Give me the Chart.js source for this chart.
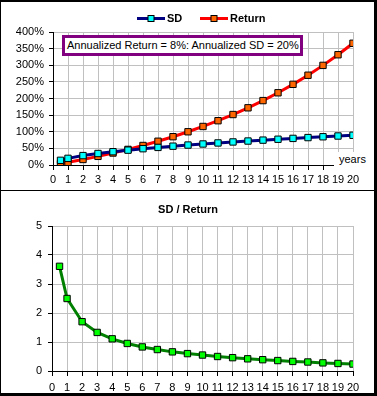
<!DOCTYPE html>
<html>
<head>
<meta charset="utf-8">
<script src="https://cdn.jsdelivr.net/npm/chart.js@4"></script>
<style>
  body { margin: 0; background: #fff; font-family: "Liberation Sans", Arial, sans-serif; }
  #page { position: relative; width: 377px; height: 396px; overflow: hidden; }
  canvas { position: absolute; left: 0; }
  #topChart { top: 0; }
  #bottomChart { top: 191px; }
  .frame { position: absolute; background: #000; }
  #note {
    position: absolute; left: 62px; top: 35px; width: 233px; height: 15px;
    border: 3px solid #800080; background: #fff; font-size: 11px; line-height: 15px;
    padding-left: 2px; white-space: pre; color: #000;
  }
  #years {
    position: absolute; left: 334px; top: 152px; width: 38px; height: 19px;
    background: #fff; font-size: 11px; line-height: 15px; padding-left: 5px; box-sizing: border-box; color: #000;
  }
</style>
</head>
<body>
<div id="page">
  <canvas id="topChart" width="377" height="190"></canvas>
  <canvas id="bottomChart" width="377" height="205"></canvas>
  <div id="note">Annualized Return = 8%: Annualized SD = 20%</div>
  <div id="years">years</div>
  <div class="frame" style="left:0;top:0;width:377px;height:2px"></div>
  <div class="frame" style="left:0;top:0;width:1px;height:396px"></div>
  <div class="frame" style="left:374px;top:0;width:3px;height:396px"></div>
  <div class="frame" style="left:0;top:393px;width:377px;height:3px"></div>
  <div class="frame" style="left:0;top:190px;width:377px;height:1px"></div>
</div>
<script>
const years = [0.5, 1, 2, 3, 4, 5, 6, 7, 8, 9, 10, 11, 12, 13, 14, 15, 16, 17, 18, 19, 20];
const sdValues = [14.1, 20.0, 28.3, 34.6, 40.0, 44.7, 49.0, 52.9, 56.6, 60.0, 63.2, 66.3, 69.3, 72.1, 74.8, 77.5, 80.0, 82.5, 84.9, 87.2, 89.4];
const returnValues = [3.9, 8.0, 16.6, 26.0, 36.0, 46.9, 58.7, 71.4, 85.1, 99.9, 115.9, 133.2, 151.8, 172.0, 193.7, 217.2, 242.6, 270.0, 299.6, 331.6, 366.1];
const ratioValues = [3.61, 2.50, 1.70, 1.33, 1.11, 0.95, 0.83, 0.74, 0.66, 0.60, 0.55, 0.50, 0.46, 0.42, 0.39, 0.36, 0.33, 0.31, 0.28, 0.26, 0.24];

const FONT = "'Liberation Sans', Arial, sans-serif";
Chart.defaults.font.family = FONT;
Chart.defaults.font.size = 11;
Chart.defaults.color = "#000";

const toPoints = (ys) => years.map((x, i) => ({ x, y: ys[i] }));

const lineSet = (label, values, line, marker) => ({
  label,
  data: toPoints(values),
  borderColor: line,
  borderWidth: 3,
  backgroundColor: marker,
  pointStyle: "rect",
  pointRadius: 4.5,
  pointHoverRadius: 4.5,
  pointBorderColor: "#000",
  pointBorderWidth: 1,
  tension: 0,
});

const xScale = (labelPad) => ({
  type: "linear",
  min: 0,
  max: 20,
  afterFit: (scale) => { scale.height = 25; },
  ticks: { stepSize: 1, autoSkip: false, maxRotation: 0, padding: labelPad },
  grid: { color: "#c0c0c0", tickColor: "#000", tickLength: 5 },
  border: { color: "#000", width: 1 },
});

// legend drawn Excel style: line with marker in the middle, bold label
const excelLegend = {
  id: "excelLegend",
  afterDraw: (chart) => {
    const ctx = chart.ctx;
    const spots = [137, 200];
    ctx.save();
    chart.data.datasets.forEach((ds, i) => {
      const x = spots[i];
      const y = 18.5;
      ctx.strokeStyle = ds.borderColor;
      ctx.lineWidth = 3;
      ctx.beginPath();
      ctx.moveTo(x, y);
      ctx.lineTo(x + 28, y);
      ctx.stroke();
      ctx.fillStyle = ds.backgroundColor;
      ctx.fillRect(x + 11, y - 3, 6, 6);
      ctx.lineWidth = 1;
      ctx.strokeStyle = "#000";
      ctx.strokeRect(x + 11, y - 3, 6, 6);
      ctx.fillStyle = "#000";
      ctx.font = "bold 11px " + FONT;
      ctx.textBaseline = "middle";
      ctx.fillText(ds.label, x + 30, y + 0.5);
    });
    ctx.restore();
  },
};

const chartTitle = {
  id: "chartTitle",
  afterDraw: (chart, args, opts) => {
    const ctx = chart.ctx;
    ctx.save();
    ctx.fillStyle = "#000";
    ctx.font = "bold 11px " + FONT;
    ctx.textAlign = "center";
    ctx.textBaseline = "middle";
    ctx.fillText(opts.text, opts.x, opts.y);
    ctx.restore();
  },
};

new Chart(document.getElementById("topChart"), {
  type: "line",
  data: {
    datasets: [
      lineSet("SD", sdValues, "#000080", "#00ffff"),
      lineSet("Return", returnValues, "#ff0000", "#ff6600"),
    ],
  },
  options: {
    responsive: false,
    animation: false,
    devicePixelRatio: 1,
    layout: { padding: { top: 32, right: 24, left: 0, bottom: 0 } },
    plugins: { legend: { display: false }, tooltip: { enabled: false } },
    scales: {
      x: xScale(3),
      y: {
        min: 0,
        max: 400,
        afterFit: (scale) => { scale.width = 53; },
        ticks: { stepSize: 50, padding: 5, callback: (v) => v + "%" },
        grid: { color: "#c0c0c0", tickColor: "#000", tickLength: 4 },
        border: { color: "#000", width: 1 },
      },
    },
  },
  plugins: [excelLegend],
});

new Chart(document.getElementById("bottomChart"), {
  type: "line",
  data: {
    datasets: [lineSet("SD / Return", ratioValues, "#008000", "#00ff00")],
  },
  options: {
    responsive: false,
    animation: false,
    devicePixelRatio: 1,
    layout: { padding: { top: 35, right: 24, left: 0, bottom: 0 } },
    plugins: {
      legend: { display: false },
      tooltip: { enabled: false },
      chartTitle: { text: "SD / Return", x: 188, y: 19 },
    },
    scales: {
      x: xScale(5),
      y: {
        min: 0,
        max: 5,
        afterFit: (scale) => { scale.width = 52; },
        ticks: {
          stepSize: 0.5,
          padding: 6,
          callback: (v) => (Number.isInteger(v) ? v : v === 3.5 ? "." : ""),
        },
        grid: { color: "#c0c0c0", tickColor: "#000", tickLength: 4 },
        border: { color: "#000", width: 1 },
      },
    },
  },
  plugins: [chartTitle],
});
</script>
</body>
</html>
